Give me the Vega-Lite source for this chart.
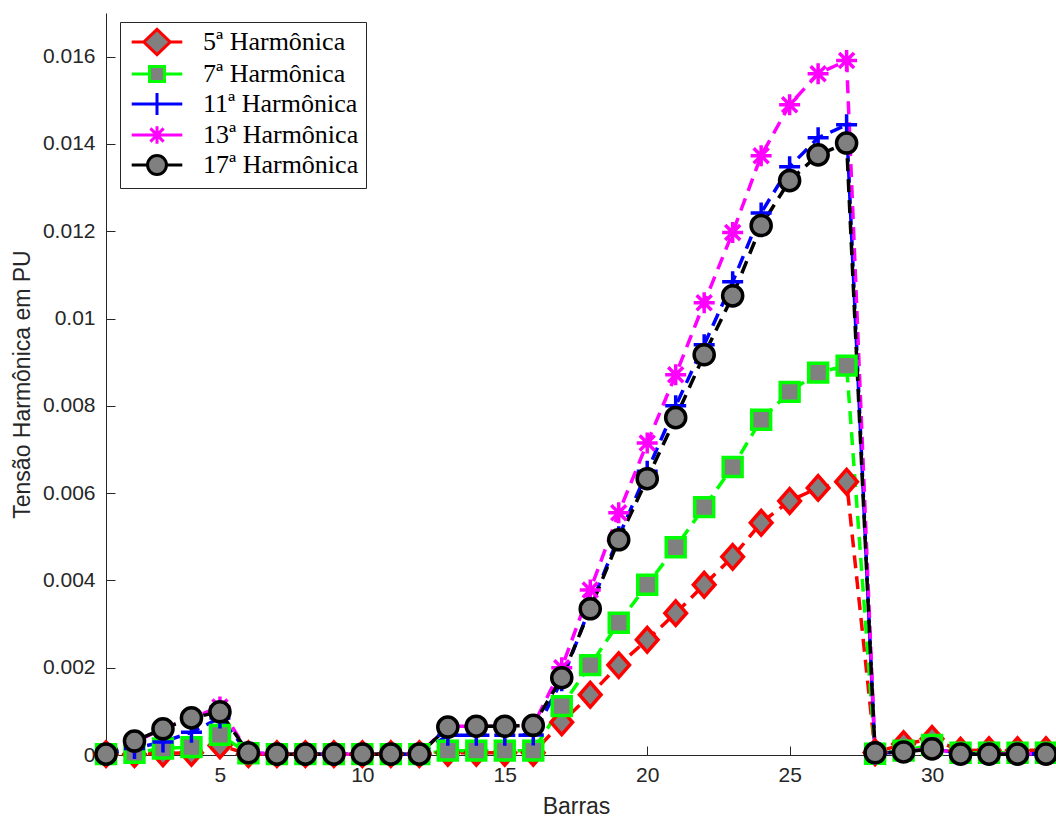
{
  "$schema": "https://vega.github.io/schema/vega-lite/v6.json",
  "width": 940,
  "height": 742,
  "autosize": {"type": "none"},
  "padding": {"left": 106, "top": 13, "right": 10, "bottom": 63},
  "background": "white",
  "config": {
    "view": {"stroke": null},
    "axis": {
      "grid": false,
      "domainColor": "#262626",
      "domainWidth": 1,
      "tickColor": "#262626",
      "tickSize": -9,
      "labelFont": "Liberation Sans",
      "labelFontSize": 21,
      "labelColor": "#262626",
      "titleFont": "Liberation Sans",
      "titleFontSize": 23,
      "titleFontWeight": "normal",
      "titleColor": "#262626"
    }
  },
  "datasets": {
    "d": [
      {"barra": 1, "serie": "5ª Harmônica", "v": 0.00002},
      {"barra": 2, "serie": "5ª Harmônica", "v": 0.00002},
      {"barra": 3, "serie": "5ª Harmônica", "v": 0.00004},
      {"barra": 4, "serie": "5ª Harmônica", "v": 0.00005},
      {"barra": 5, "serie": "5ª Harmônica", "v": 0.00022},
      {"barra": 6, "serie": "5ª Harmônica", "v": 0.00002},
      {"barra": 7, "serie": "5ª Harmônica", "v": 0.00002},
      {"barra": 8, "serie": "5ª Harmônica", "v": 0.00002},
      {"barra": 9, "serie": "5ª Harmônica", "v": 0.00002},
      {"barra": 10, "serie": "5ª Harmônica", "v": 0.00002},
      {"barra": 11, "serie": "5ª Harmônica", "v": 0.00002},
      {"barra": 12, "serie": "5ª Harmônica", "v": 0.00002},
      {"barra": 13, "serie": "5ª Harmônica", "v": 0.00005},
      {"barra": 14, "serie": "5ª Harmônica", "v": 0.00005},
      {"barra": 15, "serie": "5ª Harmônica", "v": 0.00005},
      {"barra": 16, "serie": "5ª Harmônica", "v": 0.00005},
      {"barra": 17, "serie": "5ª Harmônica", "v": 0.00075},
      {"barra": 18, "serie": "5ª Harmônica", "v": 0.00138},
      {"barra": 19, "serie": "5ª Harmônica", "v": 0.00206},
      {"barra": 20, "serie": "5ª Harmônica", "v": 0.00264},
      {"barra": 21, "serie": "5ª Harmônica", "v": 0.00325},
      {"barra": 22, "serie": "5ª Harmônica", "v": 0.0039},
      {"barra": 23, "serie": "5ª Harmônica", "v": 0.00454},
      {"barra": 24, "serie": "5ª Harmônica", "v": 0.00532},
      {"barra": 25, "serie": "5ª Harmônica", "v": 0.00582},
      {"barra": 26, "serie": "5ª Harmônica", "v": 0.00612},
      {"barra": 27, "serie": "5ª Harmônica", "v": 0.00626},
      {"barra": 28, "serie": "5ª Harmônica", "v": 0.00006},
      {"barra": 29, "serie": "5ª Harmônica", "v": 0.00025},
      {"barra": 30, "serie": "5ª Harmônica", "v": 0.00037},
      {"barra": 31, "serie": "5ª Harmônica", "v": 0.0001},
      {"barra": 32, "serie": "5ª Harmônica", "v": 0.00011},
      {"barra": 33, "serie": "5ª Harmônica", "v": 0.00011},
      {"barra": 34, "serie": "5ª Harmônica", "v": 0.00011},

      {"barra": 1, "serie": "7ª Harmônica", "v": 0.00002},
      {"barra": 2, "serie": "7ª Harmônica", "v": 0.00005},
      {"barra": 3, "serie": "7ª Harmônica", "v": 0.00015},
      {"barra": 4, "serie": "7ª Harmônica", "v": 0.00018},
      {"barra": 5, "serie": "7ª Harmônica", "v": 0.00046},
      {"barra": 6, "serie": "7ª Harmônica", "v": 0.00004},
      {"barra": 7, "serie": "7ª Harmônica", "v": 0.00002},
      {"barra": 8, "serie": "7ª Harmônica", "v": 0.00002},
      {"barra": 9, "serie": "7ª Harmônica", "v": 0.00002},
      {"barra": 10, "serie": "7ª Harmônica", "v": 0.00002},
      {"barra": 11, "serie": "7ª Harmônica", "v": 0.00002},
      {"barra": 12, "serie": "7ª Harmônica", "v": 0.00002},
      {"barra": 13, "serie": "7ª Harmônica", "v": 0.0001},
      {"barra": 14, "serie": "7ª Harmônica", "v": 0.0001},
      {"barra": 15, "serie": "7ª Harmônica", "v": 0.0001},
      {"barra": 16, "serie": "7ª Harmônica", "v": 0.0001},
      {"barra": 17, "serie": "7ª Harmônica", "v": 0.00112},
      {"barra": 18, "serie": "7ª Harmônica", "v": 0.00206},
      {"barra": 19, "serie": "7ª Harmônica", "v": 0.00303},
      {"barra": 20, "serie": "7ª Harmônica", "v": 0.0039},
      {"barra": 21, "serie": "7ª Harmônica", "v": 0.00476},
      {"barra": 22, "serie": "7ª Harmônica", "v": 0.00568},
      {"barra": 23, "serie": "7ª Harmônica", "v": 0.0066},
      {"barra": 24, "serie": "7ª Harmônica", "v": 0.00768},
      {"barra": 25, "serie": "7ª Harmônica", "v": 0.00832},
      {"barra": 26, "serie": "7ª Harmônica", "v": 0.00876},
      {"barra": 27, "serie": "7ª Harmônica", "v": 0.00892},
      {"barra": 28, "serie": "7ª Harmônica", "v": 0.00003},
      {"barra": 29, "serie": "7ª Harmônica", "v": 0.0001},
      {"barra": 30, "serie": "7ª Harmônica", "v": 0.00023},
      {"barra": 31, "serie": "7ª Harmônica", "v": 0.00005},
      {"barra": 32, "serie": "7ª Harmônica", "v": 0.00005},
      {"barra": 33, "serie": "7ª Harmônica", "v": 0.00005},
      {"barra": 34, "serie": "7ª Harmônica", "v": 0.00005},

      {"barra": 1, "serie": "11ª Harmônica", "v": 0.00002},
      {"barra": 2, "serie": "11ª Harmônica", "v": 0.00015},
      {"barra": 3, "serie": "11ª Harmônica", "v": 0.0003},
      {"barra": 4, "serie": "11ª Harmônica", "v": 0.00052},
      {"barra": 5, "serie": "11ª Harmônica", "v": 0.00085},
      {"barra": 6, "serie": "11ª Harmônica", "v": 0.00005},
      {"barra": 7, "serie": "11ª Harmônica", "v": 0.00002},
      {"barra": 8, "serie": "11ª Harmônica", "v": 0.00002},
      {"barra": 9, "serie": "11ª Harmônica", "v": 0.00002},
      {"barra": 10, "serie": "11ª Harmônica", "v": 0.00002},
      {"barra": 11, "serie": "11ª Harmônica", "v": 0.00002},
      {"barra": 12, "serie": "11ª Harmônica", "v": 0.00002},
      {"barra": 13, "serie": "11ª Harmônica", "v": 0.00045},
      {"barra": 14, "serie": "11ª Harmônica", "v": 0.00045},
      {"barra": 15, "serie": "11ª Harmônica", "v": 0.00045},
      {"barra": 16, "serie": "11ª Harmônica", "v": 0.00046},
      {"barra": 17, "serie": "11ª Harmônica", "v": 0.0017},
      {"barra": 18, "serie": "11ª Harmônica", "v": 0.0034},
      {"barra": 19, "serie": "11ª Harmônica", "v": 0.005},
      {"barra": 20, "serie": "11ª Harmônica", "v": 0.0065},
      {"barra": 21, "serie": "11ª Harmônica", "v": 0.008},
      {"barra": 22, "serie": "11ª Harmônica", "v": 0.0094},
      {"barra": 23, "serie": "11ª Harmônica", "v": 0.01084},
      {"barra": 24, "serie": "11ª Harmônica", "v": 0.01242},
      {"barra": 25, "serie": "11ª Harmônica", "v": 0.01348},
      {"barra": 26, "serie": "11ª Harmônica", "v": 0.01414},
      {"barra": 27, "serie": "11ª Harmônica", "v": 0.01444},
      {"barra": 28, "serie": "11ª Harmônica", "v": 0.00003},
      {"barra": 29, "serie": "11ª Harmônica", "v": 0.00008},
      {"barra": 30, "serie": "11ª Harmônica", "v": 0.00015},
      {"barra": 31, "serie": "11ª Harmônica", "v": 0.00003},
      {"barra": 32, "serie": "11ª Harmônica", "v": 0.00003},
      {"barra": 33, "serie": "11ª Harmônica", "v": 0.00003},
      {"barra": 34, "serie": "11ª Harmônica", "v": 0.00003},

      {"barra": 1, "serie": "13ª Harmônica", "v": 0.00002},
      {"barra": 2, "serie": "13ª Harmônica", "v": 0.0003},
      {"barra": 3, "serie": "13ª Harmônica", "v": 0.0006},
      {"barra": 4, "serie": "13ª Harmônica", "v": 0.00085},
      {"barra": 5, "serie": "13ª Harmônica", "v": 0.0011},
      {"barra": 6, "serie": "13ª Harmônica", "v": 0.00005},
      {"barra": 7, "serie": "13ª Harmônica", "v": 0.00002},
      {"barra": 8, "serie": "13ª Harmônica", "v": 0.00002},
      {"barra": 9, "serie": "13ª Harmônica", "v": 0.00002},
      {"barra": 10, "serie": "13ª Harmônica", "v": 0.00002},
      {"barra": 11, "serie": "13ª Harmônica", "v": 0.00002},
      {"barra": 12, "serie": "13ª Harmônica", "v": 0.00002},
      {"barra": 13, "serie": "13ª Harmônica", "v": 0.00066},
      {"barra": 14, "serie": "13ª Harmônica", "v": 0.00066},
      {"barra": 15, "serie": "13ª Harmônica", "v": 0.00066},
      {"barra": 16, "serie": "13ª Harmônica", "v": 0.00068},
      {"barra": 17, "serie": "13ª Harmônica", "v": 0.002},
      {"barra": 18, "serie": "13ª Harmônica", "v": 0.00378},
      {"barra": 19, "serie": "13ª Harmônica", "v": 0.00555},
      {"barra": 20, "serie": "13ª Harmônica", "v": 0.00715},
      {"barra": 21, "serie": "13ª Harmônica", "v": 0.00871},
      {"barra": 22, "serie": "13ª Harmônica", "v": 0.01036},
      {"barra": 23, "serie": "13ª Harmônica", "v": 0.01197},
      {"barra": 24, "serie": "13ª Harmônica", "v": 0.01373},
      {"barra": 25, "serie": "13ª Harmônica", "v": 0.0149},
      {"barra": 26, "serie": "13ª Harmônica", "v": 0.01561},
      {"barra": 27, "serie": "13ª Harmônica", "v": 0.01591},
      {"barra": 28, "serie": "13ª Harmônica", "v": 0.00002},
      {"barra": 29, "serie": "13ª Harmônica", "v": 0.00008},
      {"barra": 30, "serie": "13ª Harmônica", "v": 0.00015},
      {"barra": 31, "serie": "13ª Harmônica", "v": 0.00003},
      {"barra": 32, "serie": "13ª Harmônica", "v": 0.00003},
      {"barra": 33, "serie": "13ª Harmônica", "v": 0.00003},
      {"barra": 34, "serie": "13ª Harmônica", "v": 0.00003},

      {"barra": 1, "serie": "17ª Harmônica", "v": 0.00002},
      {"barra": 2, "serie": "17ª Harmônica", "v": 0.00032},
      {"barra": 3, "serie": "17ª Harmônica", "v": 0.0006},
      {"barra": 4, "serie": "17ª Harmônica", "v": 0.00085},
      {"barra": 5, "serie": "17ª Harmônica", "v": 0.00099},
      {"barra": 6, "serie": "17ª Harmônica", "v": 0.00005},
      {"barra": 7, "serie": "17ª Harmônica", "v": 0.00002},
      {"barra": 8, "serie": "17ª Harmônica", "v": 0.00002},
      {"barra": 9, "serie": "17ª Harmônica", "v": 0.00002},
      {"barra": 10, "serie": "17ª Harmônica", "v": 0.00002},
      {"barra": 11, "serie": "17ª Harmônica", "v": 0.00002},
      {"barra": 12, "serie": "17ª Harmônica", "v": 0.00002},
      {"barra": 13, "serie": "17ª Harmônica", "v": 0.00064},
      {"barra": 14, "serie": "17ª Harmônica", "v": 0.00066},
      {"barra": 15, "serie": "17ª Harmônica", "v": 0.00066},
      {"barra": 16, "serie": "17ª Harmônica", "v": 0.00068},
      {"barra": 17, "serie": "17ª Harmônica", "v": 0.00177},
      {"barra": 18, "serie": "17ª Harmônica", "v": 0.00335},
      {"barra": 19, "serie": "17ª Harmônica", "v": 0.00493},
      {"barra": 20, "serie": "17ª Harmônica", "v": 0.00633},
      {"barra": 21, "serie": "17ª Harmônica", "v": 0.00773},
      {"barra": 22, "serie": "17ª Harmônica", "v": 0.00917},
      {"barra": 23, "serie": "17ª Harmônica", "v": 0.01052},
      {"barra": 24, "serie": "17ª Harmônica", "v": 0.01213},
      {"barra": 25, "serie": "17ª Harmônica", "v": 0.01316},
      {"barra": 26, "serie": "17ª Harmônica", "v": 0.01375},
      {"barra": 27, "serie": "17ª Harmônica", "v": 0.01402},
      {"barra": 28, "serie": "17ª Harmônica", "v": 0.00005},
      {"barra": 29, "serie": "17ª Harmônica", "v": 0.00007},
      {"barra": 30, "serie": "17ª Harmônica", "v": 0.00014},
      {"barra": 31, "serie": "17ª Harmônica", "v": 0.00002},
      {"barra": 32, "serie": "17ª Harmônica", "v": 0.00002},
      {"barra": 33, "serie": "17ª Harmônica", "v": 0.00002},
      {"barra": 34, "serie": "17ª Harmônica", "v": 0.00002}
    ]
  },
  "data": {"name": "d"},
  "encoding": {
    "x": {
      "field": "barra", "type": "quantitative",
      "scale": {"domain": [1, 34], "nice": false, "zero": false},
      "axis": {"title": "Barras", "values": [5, 10, 15, 20, 25, 30], "labelPadding": 18, "titlePadding": 10}
    },
    "y": {
      "field": "v", "type": "quantitative",
      "scale": {"domain": [0, 0.017], "nice": false},
      "axis": {"title": "Tensão Harmônica em PU", "values": [0, 0.002, 0.004, 0.006, 0.008, 0.01, 0.012, 0.014, 0.016], "format": "~g", "labelPadding": 20, "titlePadding": 8}
    }
  },
  "resolve": {
    "scale": {"stroke": "independent", "shape": "independent"},
    "legend": {"stroke": "independent", "shape": "independent"}
  },
  "layer": [
    {
      "mark": {"type": "line", "strokeWidth": 3.5, "strokeDash": [13, 8]},
      "encoding": {
        "stroke": {
          "field": "serie", "type": "nominal",
          "scale": {
            "domain": ["5ª Harmônica", "7ª Harmônica", "11ª Harmônica", "13ª Harmônica", "17ª Harmônica"],
            "range": ["#ff0000", "#00ff00", "#0000ff", "#ff00ff", "#000000"]
          },
          "legend": null
        }
      }
    },
    {
      "mark": {"type": "point", "filled": false, "fill": "#808080", "fillOpacity": 1, "opacity": 1, "strokeWidth": 3.5, "size": 900},
      "encoding": {
        "stroke": {
          "field": "serie", "type": "nominal",
          "scale": {
            "domain": ["5ª Harmônica", "7ª Harmônica", "11ª Harmônica", "13ª Harmônica", "17ª Harmônica"],
            "range": ["#ff0000", "#00ff00", "#0000ff", "#ff00ff", "#000000"]
          },
          "legend": null
        },
        "shape": {
          "field": "serie", "type": "nominal",
          "scale": {
            "domain": ["5ª Harmônica", "7ª Harmônica", "11ª Harmônica", "13ª Harmônica", "17ª Harmônica"],
            "range": [
              "M0,-0.82L0.72,0L0,0.82L-0.72,0Z",
              "M-0.63,-0.63H0.63V0.63H-0.63Z",
              "M-0.7,0H0.7M0,-0.7V0.7",
              "M-0.7,0H0.7M0,-0.7V0.7M-0.5,-0.5L0.5,0.5M-0.5,0.5L0.5,-0.5",
              "M-0.67,0A0.67,0.67 0 1,1 0.67,0A0.67,0.67 0 1,1 -0.67,0Z"
            ]
          },
          "legend": null
        }
      }
    },
    {
      "mark": {"type": "point", "filled": false, "fill": "#808080", "fillOpacity": 1, "opacity": 0, "strokeWidth": 3},
      "encoding": {
        "stroke": {
          "field": "serie", "type": "nominal",
          "scale": {
            "domain": ["5ª Harmônica", "7ª Harmônica", "11ª Harmônica", "13ª Harmônica", "17ª Harmônica"],
            "range": ["#ff0000", "#00ff00", "#0000ff", "#ff00ff", "#000000"]
          },
          "legend": {
            "title": null, "orient": "none", "legendX": 14, "legendY": 9,
            "strokeColor": "#262626", "fillColor": "white", "padding": 7,
            "labelFont": "Liberation Serif", "labelFontSize": 26, "labelColor": "#000000",
            "labelOffset": 33, "symbolSize": 484, "symbolStrokeWidth": 3, "symbolOffset": 17,
            "symbolOpacity": 1, "symbolFillColor": "#808080", "rowPadding": -1, "labelLimit": 300
          }
        },
        "shape": {
          "field": "serie", "type": "nominal",
          "scale": {
            "domain": ["5ª Harmônica", "7ª Harmônica", "11ª Harmônica", "13ª Harmônica", "17ª Harmônica"],
            "range": [
              "M-2.3,0H-1.2M1.2,0H2.3M0,-1.15L1.2,0L0,1.15L-1.2,0Z",
              "M-2.3,0H-0.68M0.68,0H2.3M-0.68,-0.68H0.68V0.68H-0.68Z",
              "M-2.3,0H2.3M0,-1V1",
              "M-2.3,0H2.3M0,-0.8V0.8M-0.6,-0.6L0.6,0.6M-0.6,0.6L0.6,-0.6",
              "M-2.3,0H-0.86M0.86,0H2.3M-0.86,0A0.86,0.86 0 1,1 0.86,0A0.86,0.86 0 1,1 -0.86,0Z"
            ]
          },
          "legend": {
            "title": null, "orient": "none", "legendX": 14, "legendY": 9,
            "strokeColor": "#262626", "fillColor": "white", "padding": 7,
            "labelFont": "Liberation Serif", "labelFontSize": 26, "labelColor": "#000000",
            "labelOffset": 33, "symbolSize": 484, "symbolStrokeWidth": 3, "symbolOffset": 17,
            "symbolOpacity": 1, "symbolFillColor": "#808080", "rowPadding": -1, "labelLimit": 300
          }
        }
      }
    }
  ]
}
